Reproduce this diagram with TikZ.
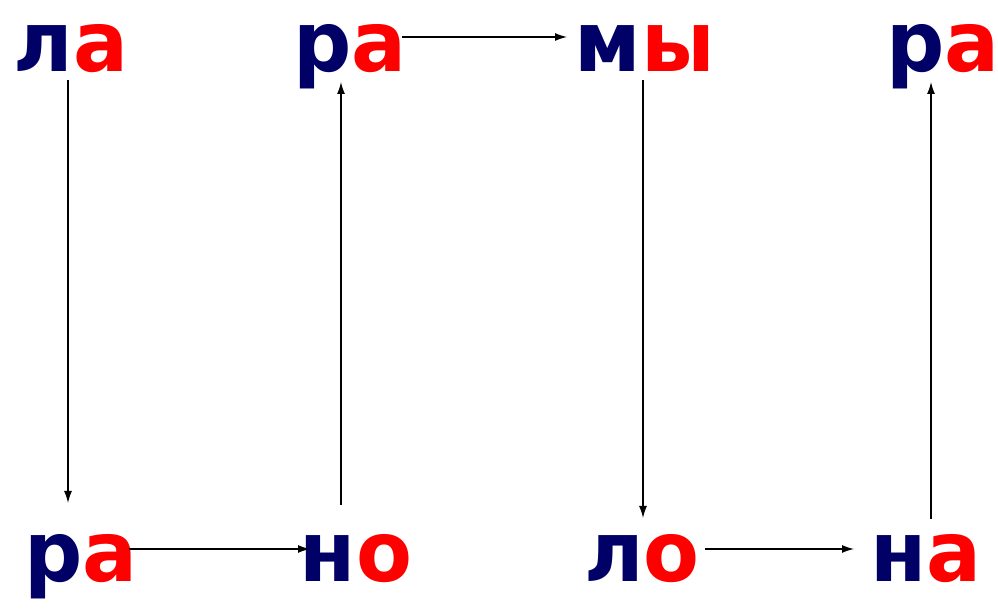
\documentclass[tikz,border=0pt]{standalone}
\usepackage{fontspec}
\setmainfont{DejaVu Sans}
\newfontfamily\wordfont[FakeStretch=0.97]{DejaVu Sans}
\usetikzlibrary{arrows.meta,calc}
\definecolor{navy}{RGB}{0,0,102}
\definecolor{wred}{RGB}{255,0,0}
\tikzset{
  word/.style={inner sep=0pt, anchor=base, font=\wordfont\fontsize{84}{90}\selectfont\bfseries},
  arr/.style={line width=1.3pt, -{Latex[length=12pt,width=8pt]}},
}
\newcommand{\cw}[2]{\textcolor{navy}{#1}\textcolor{wred}{#2}}
\begin{document}
\begin{tikzpicture}[x=1pt,y=1pt]
\useasboundingbox (0,0) rectangle (998,610);
% pixel (x,y) -> tikz (x, 610-y)
\node[word] (la)  at (71,538)  {\cw{л}{а}};
\node[word] (ra2) at (350,538) {\cw{р}{а}};
\node[word] (my)  at (645,538) {\cw{м}{ы}};
\node[word] (ra3) at (943,538) {\cw{р}{а}};
\node[word] (ra1) at (81,28)   {\cw{р}{а}};
\node[word] (no)  at (356,28)  {\cw{н}{о}};
\node[word] (lo)  at (642,28)  {\cw{л}{о}};
\node[word] (na)  at (926,28)  {\cw{н}{а}};
\draw[arr] ($(la.base)+(-3,-8)$) -- ($(ra1.base)+(-13,79)$);
\draw[arr] ($(ra1.base)+(48,33)$) -- ($(no.base)+(-46,33)$);
\draw[arr] ($(no.base)+(-15,77)$) -- ($(ra2.base)+(-9,-10)$);
\draw[arr] ($(ra2.base)+(52,35)$) -- ($(my.base)+(-78,35)$);
\draw[arr] ($(my.base)+(-2,-8)$) -- ($(lo.base)+(1,64)$);
\draw[arr] ($(lo.base)+(63,33)$) -- ($(na.base)+(-72,33)$);
\draw[arr] ($(na.base)+(5,63)$) -- ($(ra3.base)+(-12,-10)$);
\end{tikzpicture}
\end{document}
